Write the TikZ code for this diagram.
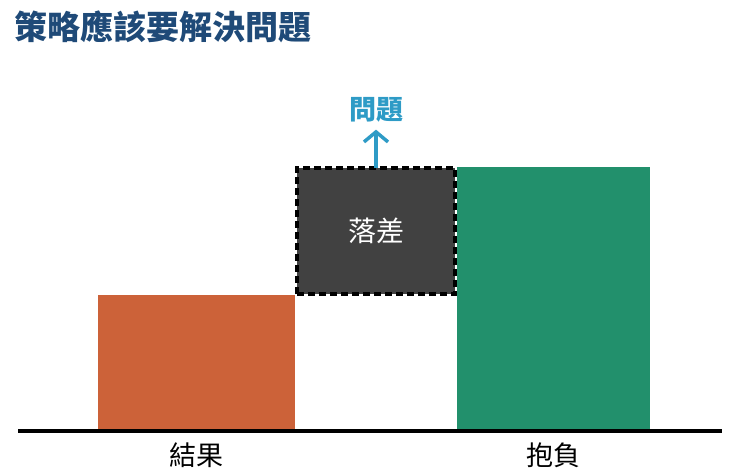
\documentclass[tikz,border=0pt]{standalone}
\usepackage{fontspec}
\usepackage{xcolor}
\setmainfont{Noto Sans CJK TC}
\usetikzlibrary{positioning, arrows.meta}
\definecolor{titleblue}{HTML}{1F4A78}
\definecolor{askblue}{HTML}{2E9BC6}
\definecolor{resultorange}{HTML}{CC6239}
\definecolor{aimgreen}{HTML}{22906C}
\definecolor{gapgray}{HTML}{414141}
\tikzset{
		>=stealth
	}
\newcommand{\Size}[1]{\fontsize{#1}{#1}\selectfont}

\begin{document}
\begin{tikzpicture}[x=1pt, y=-1pt,
					bar/.style={inner sep=0, outer sep=0, anchor=south west},
					label text/.style={font=\Size{27pt}, inner sep=0}]
		\useasboundingbox (0,0) rectangle (740,474);
		\node[anchor=west, text=titleblue, font=\Size{33pt}\bfseries, inner sep=0] (title) at (14,27) {策略應該要解決問題};
		\node[bar, fill=resultorange, minimum width=197pt, minimum height=136pt] (result) at (98,431) {};
		\node[bar, fill=aimgreen, minimum width=193pt, minimum height=264pt] (aim) at (457,431) {};
		\node[bar, fill=gapgray, draw=black, line width=3.2pt, dash pattern=on 7pt off 4pt,
			minimum width=158pt, minimum height=126pt, text=white, font=\Size{28pt}] (gap) at (297,294) {落差};
		\node[text=askblue, font=\Size{27pt}\bfseries, inner sep=0] (problem) at (376,110) {問題};
		\draw[->, askblue, line width=3.5pt, >={Straight Barb[length=10pt, width=24pt]}, shorten >=7pt] (gap.north) -- (problem.south);
		\coordinate (axis left) at (18,431);
		\coordinate (axis right) at (722,431);
		\draw[line width=3.2pt] (axis left) -- (axis right);
		\node[label text, below=12pt of result] (result label) {結果};
		\node[label text, below=12pt of aim] (aim label) {抱負};
	\end{tikzpicture}
\end{document}
